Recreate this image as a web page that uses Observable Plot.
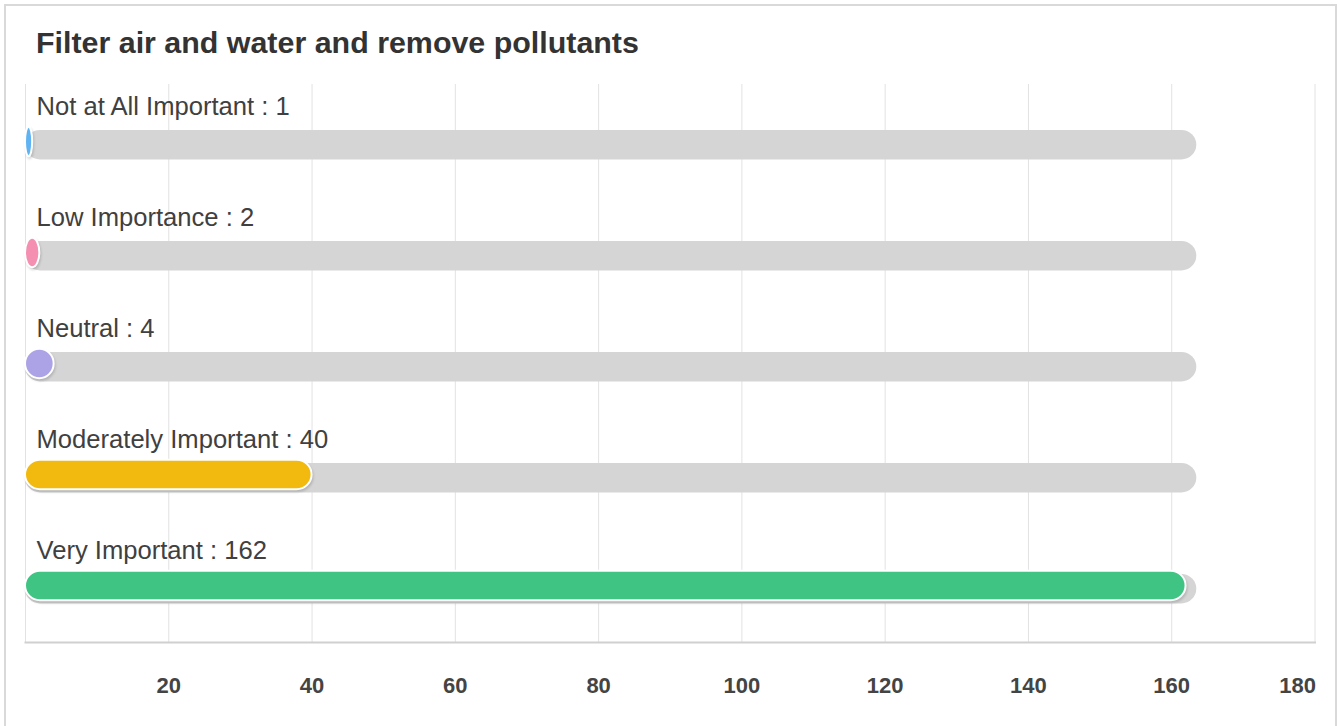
<!DOCTYPE html>
<html>
<head>
<meta charset="utf-8">
<script src="https://cdn.jsdelivr.net/npm/d3@7"></script>
<script src="https://cdn.jsdelivr.net/npm/@observablehq/plot@0.6"></script>
<style>
  html, body { margin: 0; padding: 0; background: #fff; overflow: hidden; }
  #wrap { position: relative; width: 1340px; height: 726px; overflow: hidden; }
  #border { position: absolute; left: 4px; top: 4px; width: 1329px; height: 760px; border: 2px solid #d9d9d9; box-sizing: content-box; }
  #title { position: absolute; left: 36px; top: 27px; font: bold 30.4px "Liberation Sans", Arial, sans-serif; line-height: 30px; color: #333; white-space: nowrap; }
  #chart { position: absolute; left: 0; top: 0; }
</style>
</head>
<body>
<div id="wrap">
  <div id="border"></div>
  <div id="title">Filter air and water and remove pollutants</div>
  <div id="chart"></div>
</div>
<script>
const categories = ["Not at All Important", "Low Importance", "Neutral", "Moderately Important", "Very Important"];
const values = [1, 2, 4, 40, 162];
const colors = ["#5fb3f3", "#f48fb1", "#aca3e6", "#f2b90f", "#40c483"];
const trackMax = 163.5;
const xTicks = [20, 40, 60, 80, 100, 120, 140, 160];
const lastTick = [180];
const gridTicks = [0, 20, 40, 60, 80, 100, 120, 140, 160, 180];

const data = categories.map((c, i) => ({cat: c, value: values[i], color: colors[i]}));

const chart = Plot.plot({
  width: 1340,
  height: 726,
  marginLeft: 25,
  marginRight: 25.5,
  marginTop: 84,
  marginBottom: 84,
  x: {domain: [0, 180], axis: null, label: null},
  y: {domain: categories, axis: null, padding: 0, label: null},
  color: {type: "identity"},
  style: {background: "transparent", fontFamily: "'Liberation Sans', Arial, sans-serif", color: "#444"},
  marks: [
    Plot.gridX(gridTicks, {stroke: "#e2e2e2", strokeOpacity: 1, strokeWidth: 1}),
    Plot.frame({anchor: "bottom", stroke: "#d0d0d0", strokeWidth: 2}),
    Plot.barX(data, {x1: 0, x2: () => trackMax, y: "cat", fill: "#d5d5d5", rx: 15, insetTop: 44, insetBottom: 37.6}),
    Plot.barX(data, {x1: 0, x2: "value", y: "cat", fill: "color", stroke: "white", strokeWidth: 2, rx: 15, insetTop: 40.8, insetBottom: 40.8}),
    Plot.text(data, {x: 0, y: "cat", text: d => `${d.cat} : ${d.value}`, textAnchor: "start", lineAnchor: "bottom", dx: 11, dy: -27, fontSize: 25.6, fill: "#404040"}),
    Plot.axisX(xTicks, {anchor: "bottom", label: null, tickSize: 0, tickPadding: 35, fontSize: 22, fontWeight: "bold", fill: "#444", tickFormat: d => String(d)}),
    Plot.axisX(lastTick, {anchor: "bottom", label: null, tickSize: 0, tickPadding: 35, fontSize: 22, fontWeight: "bold", fill: "#444", textAnchor: "end", dx: 1, tickFormat: d => String(d)})
  ]
});

const bars = chart.querySelectorAll('g[aria-label="bar"]');
if (bars.length > 1) bars[1].style.filter = "drop-shadow(1px 2px 1px rgba(0,0,0,0.15))";
document.getElementById("chart").appendChild(chart);
</script>
</body>
</html>
